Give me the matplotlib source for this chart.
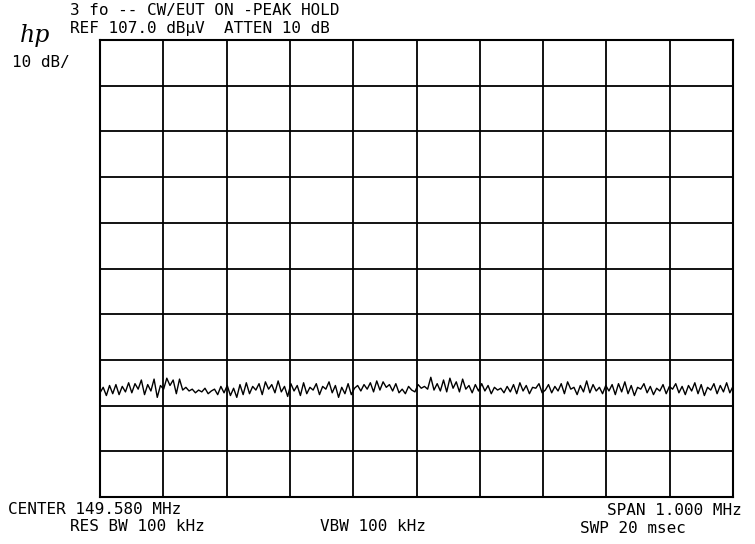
import matplotlib
matplotlib.use('Agg')
import matplotlib.pyplot as plt
import numpy as np

# analyzer settings (from the screen annotations)
ref_level = 107.0      # dBuV
db_per_div = 10
center_mhz = 149.580
span_mhz = 1.000

# trace, dBuV, left to right
trace_db = [
    29.8, 31.0, 29.2, 31.4, 29.6, 31.6, 29.4, 31.2, 30.0, 32.0, 29.8, 31.8, 30.6, 32.6, 29.4, 31.6, 30.2, 32.8, 28.8, 31.4,
    30.6, 33.0, 31.4, 32.6, 29.6, 32.8, 30.4, 31.0, 30.2, 30.6, 29.8, 30.4, 30.0, 30.8, 29.6, 30.2, 30.6, 29.4, 31.2, 29.8,
    31.4, 29.2, 30.8, 28.8, 31.6, 29.4, 32.0, 29.6, 31.2, 30.4, 31.8, 29.4, 32.2, 30.6, 31.6, 29.8, 32.4, 30.0, 31.2, 29.0,
    31.8, 30.2, 31.4, 29.2, 32.0, 29.6, 31.0, 30.4, 31.8, 29.4, 31.2, 30.6, 32.2, 29.8, 31.4, 28.8, 31.0, 29.6, 31.8, 29.4,
    30.8, 31.4, 30.2, 31.6, 30.6, 32.0, 30.0, 32.4, 30.4, 32.2, 31.0, 31.6, 30.2, 31.8, 29.8, 30.6, 29.6, 31.2, 30.4, 30.0,
    31.6, 30.8, 31.2, 30.6, 33.2, 30.4, 31.8, 30.2, 32.6, 30.0, 33.0, 30.8, 32.2, 30.0, 32.8, 30.6, 31.4, 29.8, 31.6, 30.2,
    31.8, 30.2, 31.4, 29.6, 31.0, 30.4, 30.8, 29.8, 31.2, 30.0, 31.6, 29.6, 32.0, 30.2, 31.4, 29.6, 31.0, 30.8, 31.8, 29.8,
    30.4, 31.6, 29.8, 31.2, 30.2, 31.8, 29.6, 32.2, 30.6, 31.0, 29.4, 31.4, 30.0, 32.4, 29.8, 31.6, 30.2, 31.0, 29.6, 31.4,
    30.2, 31.6, 29.4, 31.8, 30.0, 32.2, 29.6, 31.4, 29.2, 31.0, 30.6, 31.8, 29.8, 31.2, 29.4, 30.8, 30.2, 31.6, 29.6, 31.2,
    30.6, 31.8, 29.8, 31.2, 29.4, 31.4, 30.2, 32.0, 29.6, 31.6, 29.2, 31.0, 30.4, 31.8, 29.6, 31.4, 30.0, 32.0, 29.8, 31.2,
]

top_lines = ["3 fo -- CW/EUT ON -PEAK HOLD", "REF 107.0 dB\u00b5V  ATTEN 10 dB"]

f_start = center_mhz - span_mhz / 2
f_stop = center_mhz + span_mhz / 2
freqs = np.linspace(f_start, f_stop, len(trace_db))

fig = plt.figure(figsize=(7.55, 5.44), dpi=100)
ax = fig.add_axes([100 / 755, 1 - 497 / 544, 633 / 755, 457 / 544])

ax.plot(freqs, trace_db, color='black', lw=1.0)

ax.set_xlim(f_start, f_stop)
ax.set_ylim(ref_level - 10 * db_per_div, ref_level)
ax.set_xticks(np.linspace(f_start, f_stop, 11))
ax.set_yticks(np.arange(ref_level - 10 * db_per_div, ref_level + 1, db_per_div))
ax.grid(True, color='black', lw=1.3)
ax.tick_params(length=0, labelbottom=False, labelleft=False)
for s in ax.spines.values():
    s.set_linewidth(1.5)

mono = dict(family='DejaVu Sans Mono', fontsize=11.5, color='black', va='baseline')

def put(x, y, s, ha='left'):
    fig.text(x / 755, 1 - y / 544, s, ha=ha, **mono)

put(70, 15.5, top_lines[0])
put(70, 33.5, top_lines[1])
put(12, 67, "10 dB/")
fig.text(20 / 755, 1 - 42 / 544, "hp", family='DejaVu Serif', style='italic',
         fontsize=17, va='baseline')

put(8, 514, f"CENTER {center_mhz:.3f} MHz")
put(70, 531, "RES BW 100 kHz")
put(320, 531, "VBW 100 kHz")
put(742, 515, f"SPAN {span_mhz:.3f} MHz", ha='right')
put(686, 533, "SWP 20 msec", ha='right')

fig.savefig('out.png', dpi=100)
